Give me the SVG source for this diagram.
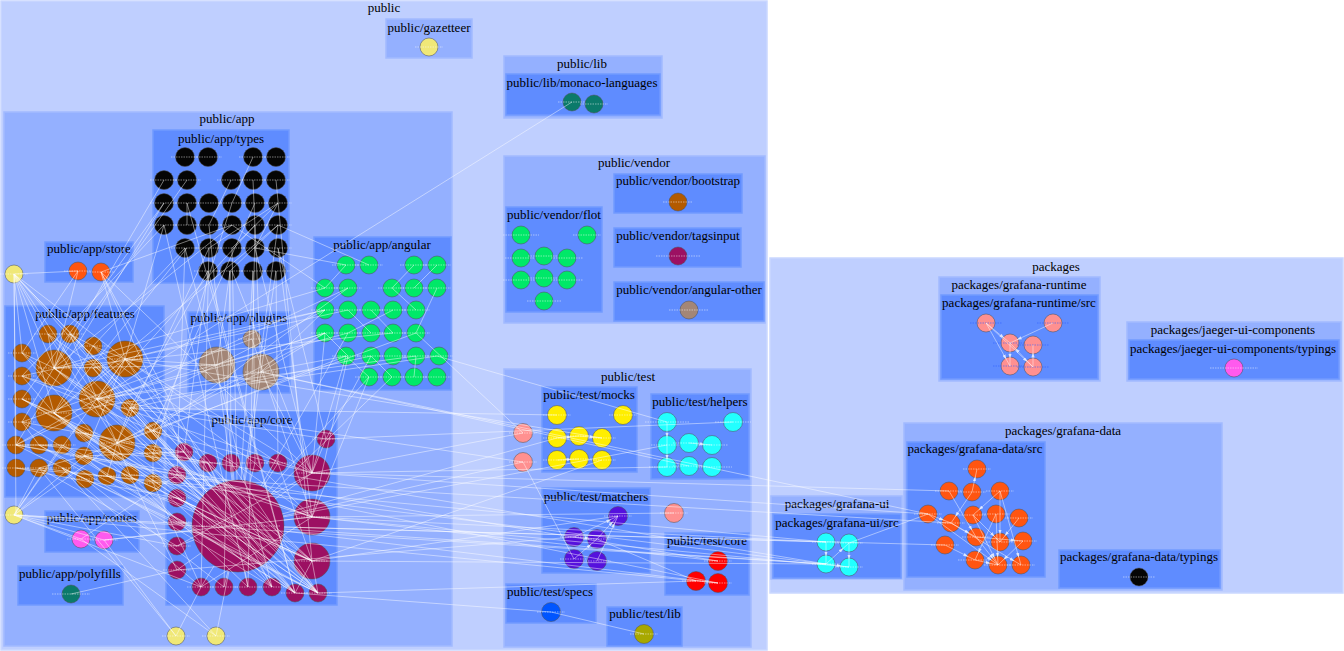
<svg xmlns="http://www.w3.org/2000/svg" width="1344" height="651" viewBox="0 0 1344 651">
<style>
.c1{fill:#bfcfff;stroke:#cad8ff;stroke-width:1.5}
.c2{fill:#94b0ff;stroke:#a2bbff;stroke-width:1.5}
.c3{fill:#5f8cff;stroke:#729aff;stroke-width:1.5}
text{font-size:13px;fill:#000;text-anchor:middle}
circle{stroke:#505050;stroke-width:0.5}
.l{stroke:#fff;stroke-width:0.6;stroke-dasharray:1.5 1;opacity:0.8;fill:none}
.lb{stroke:#2f5fff;stroke-width:0.6;stroke-dasharray:1.5 1;fill:none}
.yl{fill:#f0e878}.bk{fill:#050505}.or{fill:#ff5511}.br{fill:#b35a00}.pg{fill:#a38677}
.gr{fill:#00e868}.mr{fill:#9c1062}.pk{fill:#ff5aee}.tl{fill:#0b7a6a}.ym{fill:#ffee00}
.cy{fill:#22ffff}.sa{fill:#ff9090}.pu{fill:#5511dd}.rd{fill:#ff0000}.bl{fill:#0055ff}.ol{fill:#a8a800}
#edges line{stroke:#fff;stroke-width:0.7;stroke-opacity:0.65}
#edges line.m{marker-end:url(#a)}
</style>
<defs>
<marker id="a" viewBox="0 0 6 4" refX="15" refY="2" markerWidth="5" markerHeight="3.5" markerUnits="userSpaceOnUse" orient="auto"><path d="M0 0L6 2L0 4z" fill="#fff" fill-opacity="0.7"/></marker>
</defs>
<g id="clusters" font-family="Liberation Serif, Times New Roman, serif">
<rect class="c1" x="1" y="1" width="766" height="649"/><text x="384" y="12">public</text>
<rect class="c2" x="386" y="19" width="86" height="39"/><text x="429" y="32">public/gazetteer</text>
<rect class="c2" x="504" y="56" width="158" height="62"/><text x="582" y="68">public/lib</text>
<rect class="c3" x="506" y="74" width="154" height="41"/><text x="582" y="87">public/lib/monaco-languages</text>
<rect class="c2" x="4" y="112" width="448" height="534"/><text x="227" y="123">public/app</text>
<rect class="c3" x="153" y="130" width="136" height="153"/><text x="221" y="143">public/app/types</text>
<rect class="c3" x="45" y="242" width="88" height="40"/><text x="89" y="253">public/app/store</text>
<rect class="c3" x="5" y="306" width="159" height="191"/><text x="85" y="318">public/app/features</text>
<rect class="c3" x="188" y="312" width="102" height="81"/><text x="239" y="322">public/app/plugins</text>
<rect class="c3" x="314" y="237" width="137" height="153"/><text x="382" y="249">public/app/angular</text>
<rect class="c3" x="166" y="411" width="171" height="194"/><text x="252" y="424">public/app/core</text>
<rect class="c3" x="45" y="511" width="94" height="41"/><text x="92" y="522">public/app/routes</text>
<rect class="c3" x="18" y="566" width="105" height="39"/><text x="70" y="578">public/app/polyfills</text>
<rect class="c2" x="504" y="156" width="261" height="167"/><text x="634" y="167">public/vendor</text>
<rect class="c3" x="506" y="207" width="96" height="105"/><text x="554" y="219">public/vendor/flot</text>
<rect class="c3" x="614" y="174" width="128" height="39"/><text x="678" y="185">public/vendor/bootstrap</text>
<rect class="c3" x="614" y="228" width="127" height="39"/><text x="678" y="240">public/vendor/tagsinput</text>
<rect class="c3" x="614" y="282" width="150" height="39"/><text x="689" y="294">public/vendor/angular-other</text>
<rect class="c2" x="504" y="369" width="247" height="278"/><text x="628" y="381">public/test</text>
<rect class="c3" x="542" y="387" width="95" height="85"/><text x="589" y="399">public/test/mocks</text>
<rect class="c3" x="651" y="394" width="98" height="85"/><text x="700" y="406">public/test/helpers</text>
<rect class="c3" x="542" y="488" width="108" height="85"/><text x="596" y="501">public/test/matchers</text>
<rect class="c3" x="665" y="533" width="84" height="62"/><text x="707" y="545">public/test/core</text>
<rect class="c3" x="506" y="584" width="90" height="39"/><text x="550" y="596">public/test/specs</text>
<rect class="c3" x="607" y="607" width="75" height="39"/><text x="645" y="618">public/test/lib</text>
<rect class="c1" x="770" y="258" width="573" height="335"/><text x="1056" y="271">packages</text>
<rect class="c2" x="939" y="277" width="161" height="104"/><text x="1019" y="289">packages/grafana-runtime</text>
<rect class="c3" x="941" y="295" width="157" height="84"/><text x="1019" y="307">packages/grafana-runtime/src</text>
<rect class="c2" x="1127" y="322" width="214" height="59"/><text x="1233" y="334">packages/jaeger-ui-components</text>
<rect class="c3" x="1129" y="340" width="210" height="39"/><text x="1233" y="353">packages/jaeger-ui-components/typings</text>
<rect class="c2" x="904" y="423" width="318" height="167"/><text x="1063" y="435">packages/grafana-data</text>
<rect class="c3" x="907" y="442" width="138" height="135"/><text x="975" y="453">packages/grafana-data/src</text>
<rect class="c3" x="1059" y="550" width="161" height="38"/><text x="1139" y="561">packages/grafana-data/typings</text>
<rect class="c2" x="771" y="496" width="131" height="83"/><text x="837" y="508">packages/grafana-ui</text>
<rect class="c3" x="773" y="514" width="128" height="64"/><text x="837" y="527">packages/grafana-ui/src</text>
</g>
<g id="nodes">
<g id="gaz1"><circle class="yl" cx="429" cy="47" r="9"/><path class="l" d="M415 47h28"/></g>
<g id="mon1"><circle class="tl" cx="572" cy="102" r="9"/><path class="l" d="M558 102h28"/></g>
<g id="mon2"><circle class="tl" cx="594" cy="104" r="9"/><path class="l" d="M580 104h28"/></g>
<g id="y1"><circle class="yl" cx="14" cy="274" r="9"/><path class="l" d="M0 274h28"/></g>
<g id="y2"><circle class="yl" cx="14" cy="515" r="9"/><path class="l" d="M0 515h28"/></g>
<g id="y3"><circle class="yl" cx="176" cy="636" r="9"/><path class="l" d="M162 636h28"/></g>
<g id="y4"><circle class="yl" cx="216" cy="636" r="9"/><path class="l" d="M202 636h28"/></g>
<g id="st1"><circle class="or" cx="78" cy="271" r="9"/><path class="l" d="M64 271h28"/></g>
<g id="st2"><circle class="or" cx="101" cy="272" r="9"/><path class="l" d="M87 272h28"/></g>
<g id="ty1"><circle class="bk" cx="185" cy="157" r="9.5"/><path class="l" d="M171 157h28"/></g>
<g id="ty2"><circle class="bk" cx="208" cy="157" r="9.5"/><path class="l" d="M194 157h28"/></g>
<g id="ty3"><circle class="bk" cx="253" cy="157" r="9.5"/><path class="l" d="M239 157h28"/></g>
<g id="ty4"><circle class="bk" cx="276" cy="157" r="9.5"/><path class="l" d="M262 157h28"/></g>
<g id="ty5"><circle class="bk" cx="164" cy="180" r="9.5"/><path class="l" d="M150 180h28"/></g>
<g id="ty6"><circle class="bk" cx="187" cy="180" r="9.5"/><path class="l" d="M173 180h28"/></g>
<g id="ty7"><circle class="bk" cx="231" cy="180" r="9.5"/><path class="l" d="M217 180h28"/></g>
<g id="ty8"><circle class="bk" cx="253" cy="180" r="9.5"/><path class="l" d="M239 180h28"/></g>
<g id="ty9"><circle class="bk" cx="276" cy="180" r="9.5"/><path class="l" d="M262 180h28"/></g>
<g id="ty10"><circle class="bk" cx="164" cy="203" r="9.5"/><path class="l" d="M150 203h28"/></g>
<g id="ty11"><circle class="bk" cx="187" cy="203" r="9.5"/><path class="l" d="M173 203h28"/></g>
<g id="ty12"><circle class="bk" cx="209" cy="203" r="9.5"/><path class="l" d="M195 203h28"/></g>
<g id="ty13"><circle class="bk" cx="232" cy="203" r="9.5"/><path class="l" d="M218 203h28"/></g>
<g id="ty14"><circle class="bk" cx="255" cy="203" r="9.5"/><path class="l" d="M241 203h28"/></g>
<g id="ty15"><circle class="bk" cx="278" cy="203" r="9.5"/><path class="l" d="M264 203h28"/></g>
<g id="ty16"><circle class="bk" cx="164" cy="225" r="9.5"/><path class="l" d="M150 225h28"/></g>
<g id="ty17"><circle class="bk" cx="187" cy="225" r="9.5"/><path class="l" d="M173 225h28"/></g>
<g id="ty18"><circle class="bk" cx="209" cy="225" r="9.5"/><path class="l" d="M195 225h28"/></g>
<g id="ty19"><circle class="bk" cx="232" cy="225" r="9.5"/><path class="l" d="M218 225h28"/></g>
<g id="ty20"><circle class="bk" cx="255" cy="225" r="9.5"/><path class="l" d="M241 225h28"/></g>
<g id="ty21"><circle class="bk" cx="278" cy="225" r="9.5"/><path class="l" d="M264 225h28"/></g>
<g id="ty22"><circle class="bk" cx="185" cy="248" r="9.5"/><path class="l" d="M171 248h28"/></g>
<g id="ty23"><circle class="bk" cx="209" cy="248" r="9.5"/><path class="l" d="M195 248h28"/></g>
<g id="ty24"><circle class="bk" cx="232" cy="248" r="9.5"/><path class="l" d="M218 248h28"/></g>
<g id="ty25"><circle class="bk" cx="255" cy="248" r="9.5"/><path class="l" d="M241 248h28"/></g>
<g id="ty26"><circle class="bk" cx="278" cy="248" r="9.5"/><path class="l" d="M264 248h28"/></g>
<g id="ty27"><circle class="bk" cx="208" cy="271" r="9.5"/><path class="l" d="M194 271h28"/></g>
<g id="ty28"><circle class="bk" cx="230" cy="271" r="9.5"/><path class="l" d="M216 271h28"/></g>
<g id="ty29"><circle class="bk" cx="253" cy="271" r="9.5"/><path class="l" d="M239 271h28"/></g>
<g id="ty30"><circle class="bk" cx="276" cy="271" r="9.5"/><path class="l" d="M262 271h28"/></g>
<g id="fe1"><circle class="br" cx="48" cy="334" r="9"/><path class="l" d="M34 334h28"/></g>
<g id="fe2"><circle class="br" cx="70" cy="334" r="9"/><path class="l" d="M56 334h28"/></g>
<g id="fe3"><circle class="br" cx="93" cy="346" r="9"/><path class="l" d="M79 346h28"/></g>
<g id="fe4"><circle class="br" cx="125" cy="359" r="18"/><path class="l" d="M109 359h32"/></g>
<g id="fe5"><circle class="br" cx="22" cy="353" r="9"/><path class="l" d="M8 353h28"/></g>
<g id="fe6"><circle class="br" cx="54" cy="368" r="18"/><path class="l" d="M38 368h32"/></g>
<g id="fe7"><circle class="br" cx="93" cy="368" r="9"/><path class="l" d="M79 368h28"/></g>
<g id="fe8"><circle class="br" cx="22" cy="376" r="9"/><path class="l" d="M8 376h28"/></g>
<g id="fe9"><circle class="br" cx="97" cy="399" r="18"/><path class="l" d="M81 399h32"/></g>
<g id="fe10"><circle class="br" cx="22" cy="399" r="9"/><path class="l" d="M8 399h28"/></g>
<g id="fe11"><circle class="br" cx="54" cy="413" r="18"/><path class="l" d="M38 413h32"/></g>
<g id="fe12"><circle class="br" cx="130" cy="408" r="9"/><path class="l" d="M116 408h28"/></g>
<g id="fe13"><circle class="br" cx="22" cy="422" r="9"/><path class="l" d="M8 422h28"/></g>
<g id="fe14"><circle class="br" cx="84" cy="433" r="9"/><path class="l" d="M70 433h28"/></g>
<g id="fe15"><circle class="br" cx="117" cy="443" r="18"/><path class="l" d="M101 443h32"/></g>
<g id="fe16"><circle class="br" cx="153" cy="431" r="9"/><path class="l" d="M139 431h28"/></g>
<g id="fe17"><circle class="br" cx="16" cy="445" r="9"/><path class="l" d="M2 445h28"/></g>
<g id="fe18"><circle class="br" cx="39" cy="445" r="9"/><path class="l" d="M25 445h28"/></g>
<g id="fe19"><circle class="br" cx="62" cy="445" r="9"/><path class="l" d="M48 445h28"/></g>
<g id="fe20"><circle class="br" cx="84" cy="456" r="9"/><path class="l" d="M70 456h28"/></g>
<g id="fe21"><circle class="br" cx="153" cy="453" r="9"/><path class="l" d="M139 453h28"/></g>
<g id="fe22"><circle class="br" cx="16" cy="468" r="9"/><path class="l" d="M2 468h28"/></g>
<g id="fe23"><circle class="br" cx="39" cy="468" r="9"/><path class="l" d="M25 468h28"/></g>
<g id="fe24"><circle class="br" cx="62" cy="468" r="9"/><path class="l" d="M48 468h28"/></g>
<g id="fe25"><circle class="br" cx="85" cy="479" r="9"/><path class="l" d="M71 479h28"/></g>
<g id="fe26"><circle class="br" cx="107" cy="476" r="9"/><path class="l" d="M93 476h28"/></g>
<g id="fe27"><circle class="br" cx="130" cy="475" r="9"/><path class="l" d="M116 475h28"/></g>
<g id="fe28"><circle class="br" cx="153" cy="483" r="9"/><path class="l" d="M139 483h28"/></g>
<g id="pl1"><circle class="pg" cx="252" cy="339" r="9"/><path class="l" d="M238 339h28"/></g>
<g id="pl2"><circle class="pg" cx="217" cy="365" r="18"/><path class="l" d="M201 365h32"/></g>
<g id="pl3"><circle class="pg" cx="261" cy="372" r="18"/><path class="l" d="M245 372h32"/></g>
<g id="an1"><circle class="gr" cx="346" cy="265" r="9"/><path class="l" d="M332 265h28"/></g>
<g id="an2"><circle class="gr" cx="369" cy="265" r="9"/><path class="l" d="M355 265h28"/></g>
<g id="an3"><circle class="gr" cx="414" cy="265" r="9"/><path class="l" d="M400 265h28"/></g>
<g id="an4"><circle class="gr" cx="437" cy="265" r="9"/><path class="l" d="M423 265h28"/></g>
<g id="an5"><circle class="gr" cx="325" cy="288" r="9"/><path class="l" d="M311 288h28"/></g>
<g id="an6"><circle class="gr" cx="348" cy="288" r="9"/><path class="l" d="M334 288h28"/></g>
<g id="an7"><circle class="gr" cx="392" cy="288" r="9"/><path class="l" d="M378 288h28"/></g>
<g id="an8"><circle class="gr" cx="414" cy="288" r="9"/><path class="l" d="M400 288h28"/></g>
<g id="an9"><circle class="gr" cx="437" cy="288" r="9"/><path class="l" d="M423 288h28"/></g>
<g id="an10"><circle class="gr" cx="325" cy="310" r="9"/><path class="l" d="M311 310h28"/></g>
<g id="an11"><circle class="gr" cx="348" cy="310" r="9"/><path class="l" d="M334 310h28"/></g>
<g id="an12"><circle class="gr" cx="371" cy="310" r="9"/><path class="l" d="M357 310h28"/></g>
<g id="an13"><circle class="gr" cx="393" cy="310" r="9"/><path class="l" d="M379 310h28"/></g>
<g id="an14"><circle class="gr" cx="416" cy="310" r="9"/><path class="l" d="M402 310h28"/></g>
<g id="an15"><circle class="gr" cx="325" cy="333" r="9"/><path class="l" d="M311 333h28"/></g>
<g id="an16"><circle class="gr" cx="348" cy="333" r="9"/><path class="l" d="M334 333h28"/></g>
<g id="an17"><circle class="gr" cx="371" cy="333" r="9"/><path class="l" d="M357 333h28"/></g>
<g id="an18"><circle class="gr" cx="393" cy="333" r="9"/><path class="l" d="M379 333h28"/></g>
<g id="an19"><circle class="gr" cx="416" cy="333" r="9"/><path class="l" d="M402 333h28"/></g>
<g id="an20"><circle class="gr" cx="346" cy="356" r="9"/><path class="l" d="M332 356h28"/></g>
<g id="an21"><circle class="gr" cx="371" cy="356" r="9"/><path class="l" d="M357 356h28"/></g>
<g id="an22"><circle class="gr" cx="393" cy="356" r="9"/><path class="l" d="M379 356h28"/></g>
<g id="an23"><circle class="gr" cx="416" cy="356" r="9"/><path class="l" d="M402 356h28"/></g>
<g id="an24"><circle class="gr" cx="439" cy="356" r="9"/><path class="l" d="M425 356h28"/></g>
<g id="an25"><circle class="gr" cx="369" cy="377" r="9"/><path class="l" d="M355 377h28"/></g>
<g id="an26"><circle class="gr" cx="392" cy="377" r="9"/><path class="l" d="M378 377h28"/></g>
<g id="an27"><circle class="gr" cx="414" cy="377" r="9"/><path class="l" d="M400 377h28"/></g>
<g id="an28"><circle class="gr" cx="437" cy="377" r="9"/><path class="l" d="M423 377h28"/></g>
<g id="co1"><circle class="mr" cx="326" cy="439" r="9"/><path class="l" d="M312 439h28"/></g>
<g id="co2"><circle class="mr" cx="184" cy="452" r="9"/><path class="l" d="M170 452h28"/></g>
<g id="co3"><circle class="mr" cx="208" cy="463" r="9"/><path class="l" d="M194 463h28"/></g>
<g id="co4"><circle class="mr" cx="231" cy="463" r="9"/><path class="l" d="M217 463h28"/></g>
<g id="co5"><circle class="mr" cx="255" cy="463" r="9"/><path class="l" d="M241 463h28"/></g>
<g id="co6"><circle class="mr" cx="278" cy="463" r="9"/><path class="l" d="M264 463h28"/></g>
<g id="co7"><circle class="mr" cx="312" cy="473" r="18"/><path class="l" d="M296 473h32"/></g>
<g id="co8"><circle class="mr" cx="177" cy="475" r="9"/><path class="l" d="M163 475h28"/></g>
<g id="co9"><circle class="mr" cx="238" cy="526" r="46"/><path class="l" d="M196 526h84"/></g>
<g id="co10"><circle class="mr" cx="177" cy="498" r="9"/><path class="l" d="M163 498h28"/></g>
<g id="co11"><circle class="mr" cx="312" cy="517" r="18"/><path class="l" d="M296 517h32"/></g>
<g id="co12"><circle class="mr" cx="177" cy="522" r="9"/><path class="l" d="M163 522h28"/></g>
<g id="co13"><circle class="mr" cx="177" cy="546" r="9"/><path class="l" d="M163 546h28"/></g>
<g id="co14"><circle class="mr" cx="312" cy="561" r="18"/><path class="l" d="M296 561h32"/></g>
<g id="co15"><circle class="mr" cx="177" cy="570" r="9"/><path class="l" d="M163 570h28"/></g>
<g id="co16"><circle class="mr" cx="201" cy="587" r="9"/><path class="l" d="M187 587h28"/></g>
<g id="co17"><circle class="mr" cx="224" cy="587" r="9"/><path class="l" d="M210 587h28"/></g>
<g id="co18"><circle class="mr" cx="248" cy="587" r="9"/><path class="l" d="M234 587h28"/></g>
<g id="co19"><circle class="mr" cx="272" cy="587" r="9"/><path class="l" d="M258 587h28"/></g>
<g id="co20"><circle class="mr" cx="295" cy="593" r="9"/><path class="l" d="M281 593h28"/></g>
<g id="co21"><circle class="mr" cx="318" cy="593" r="9"/><path class="l" d="M304 593h28"/></g>
<g id="ro1"><circle class="pk" cx="81" cy="539" r="9"/><path class="l" d="M67 539h28"/></g>
<g id="ro2"><circle class="pk" cx="104" cy="540" r="9"/><path class="l" d="M90 540h28"/></g>
<g id="po1"><circle class="tl" cx="71" cy="594" r="9"/><path class="l" d="M52 594h38"/></g>
<g id="fl1"><circle class="gr" cx="521" cy="235" r="9"/><path class="l" d="M503 235h36"/></g>
<g id="fl2"><circle class="gr" cx="587" cy="235" r="9"/><path class="l" d="M573 235h28"/></g>
<g id="fl3"><circle class="gr" cx="521" cy="258" r="9"/><path class="l" d="M505 258h32"/></g>
<g id="fl4"><circle class="gr" cx="544" cy="256" r="9"/><path class="l" d="M528 256h32"/></g>
<g id="fl5"><circle class="gr" cx="567" cy="258" r="9"/><path class="l" d="M551 258h32"/></g>
<g id="fl6"><circle class="gr" cx="521" cy="280" r="9"/><path class="l" d="M503 280h36"/></g>
<g id="fl7"><circle class="gr" cx="544" cy="278" r="9"/><path class="l" d="M528 278h32"/></g>
<g id="fl8"><circle class="gr" cx="567" cy="280" r="9"/><path class="l" d="M551 280h32"/></g>
<g id="fl9"><circle class="gr" cx="544" cy="301" r="9"/><path class="l" d="M527 301h34"/></g>
<g id="bo1"><circle class="br" cx="678" cy="202" r="9"/><path class="l" d="M663 202h30"/></g>
<g id="tg1"><circle class="mr" cx="678" cy="256" r="9"/><path class="l" d="M656 256h44"/></g>
<g id="ao1"><circle class="pg" cx="689" cy="310" r="9"/><path class="l" d="M669 310h40"/></g>
<g id="mo1"><circle class="ym" cx="557" cy="415" r="9.5"/><path class="l" d="M543 415h28"/></g>
<g id="mo2"><circle class="ym" cx="623" cy="415" r="9.5"/><path class="l" d="M609 415h28"/></g>
<g id="mo3"><circle class="ym" cx="557" cy="438" r="9.5"/><path class="l" d="M543 438h28"/></g>
<g id="mo4"><circle class="ym" cx="579" cy="436" r="9.5"/><path class="l" d="M565 436h28"/></g>
<g id="mo5"><circle class="ym" cx="602" cy="438" r="9.5"/><path class="l" d="M588 438h28"/></g>
<g id="mo6"><circle class="ym" cx="557" cy="460" r="9.5"/><path class="l" d="M543 460h28"/></g>
<g id="mo7"><circle class="ym" cx="579" cy="459" r="9.5"/><path class="l" d="M565 459h28"/></g>
<g id="mo8"><circle class="ym" cx="602" cy="460" r="9.5"/><path class="l" d="M588 460h28"/></g>
<g id="he1"><circle class="cy" cx="667" cy="422" r="9.5"/><path class="l" d="M645 422h44"/></g>
<g id="he2"><circle class="cy" cx="733" cy="422" r="9.5"/><path class="l" d="M715 422h36"/></g>
<g id="he3"><circle class="cy" cx="667" cy="445" r="9.5"/><path class="l" d="M651 445h32"/></g>
<g id="he4"><circle class="cy" cx="689" cy="443" r="9.5"/><path class="l" d="M673 443h32"/></g>
<g id="he5"><circle class="cy" cx="712" cy="445" r="9.5"/><path class="l" d="M696 445h32"/></g>
<g id="he6"><circle class="cy" cx="667" cy="467" r="9.5"/><path class="l" d="M649 467h36"/></g>
<g id="he7"><circle class="cy" cx="689" cy="466" r="9.5"/><path class="l" d="M673 466h32"/></g>
<g id="he8"><circle class="cy" cx="712" cy="467" r="9.5"/><path class="l" d="M696 467h36"/></g>
<g id="sa1"><circle class="sa" cx="523" cy="433" r="9.5"/><path class="l" d="M509 433h28"/></g>
<g id="sa2"><circle class="sa" cx="523" cy="462" r="9.5"/><path class="l" d="M509 462h28"/></g>
<g id="sa3"><circle class="sa" cx="674" cy="513" r="9.5"/><path class="l" d="M660 513h28"/></g>
<g id="ma1"><circle class="pu" cx="618" cy="516" r="9.5"/><path class="l" d="M604 516h28"/></g>
<g id="ma2"><circle class="pu" cx="574" cy="537" r="9.5"/><path class="l" d="M560 537h28"/></g>
<g id="ma3"><circle class="pu" cx="597" cy="539" r="9.5"/><path class="l" d="M583 539h28"/></g>
<g id="ma4"><circle class="pu" cx="574" cy="559" r="9.5"/><path class="l" d="M560 559h28"/></g>
<g id="ma5"><circle class="pu" cx="597" cy="561" r="9.5"/><path class="l" d="M583 561h28"/></g>
<g id="tc1"><circle class="rd" cx="718" cy="561" r="9.5"/><path class="l" d="M704 561h28"/></g>
<g id="tc2"><circle class="rd" cx="696" cy="581" r="9.5"/><path class="l" d="M682 581h28"/></g>
<g id="tc3"><circle class="rd" cx="718" cy="583" r="9.5"/><path class="l" d="M704 583h28"/></g>
<g id="sp1"><circle class="bl" cx="551" cy="612" r="9.5"/><path class="l" d="M537 612h28"/></g>
<g id="tl1"><circle class="ol" cx="644" cy="634" r="9.5"/><path class="l" d="M630 634h28"/></g>
<g id="rt1"><circle class="sa" cx="986" cy="323" r="9"/><path class="lb" d="M970 323h32"/></g>
<g id="rt2"><circle class="sa" cx="1053" cy="323" r="9"/><path class="lb" d="M1037 323h32"/></g>
<g id="rt3"><circle class="sa" cx="1010" cy="343" r="9"/><path class="lb" d="M993 343h34"/></g>
<g id="rt4"><circle class="sa" cx="1033" cy="345" r="9"/><path class="lb" d="M1017 345h32"/></g>
<g id="rt5"><circle class="sa" cx="1010" cy="366" r="9"/><path class="lb" d="M993 366h34"/></g>
<g id="rt6"><circle class="sa" cx="1033" cy="367" r="9"/><path class="lb" d="M1017 367h32"/></g>
<g id="jg1"><circle class="pk" cx="1234" cy="368" r="9"/><path class="l" d="M1210 368h48"/></g>
<g id="gd1"><circle class="or" cx="977" cy="469" r="9"/><path class="l" d="M963 469h28"/></g>
<g id="gd2"><circle class="or" cx="949" cy="491" r="9"/><path class="l" d="M935 491h28"/></g>
<g id="gd3"><circle class="or" cx="972" cy="492" r="9"/><path class="l" d="M958 492h28"/></g>
<g id="gd4"><circle class="or" cx="1000" cy="491" r="9"/><path class="l" d="M986 491h28"/></g>
<g id="gd5"><circle class="or" cx="928" cy="514" r="9"/><path class="l" d="M914 514h28"/></g>
<g id="gd6"><circle class="or" cx="973" cy="515" r="9"/><path class="l" d="M959 515h28"/></g>
<g id="gd7"><circle class="or" cx="996" cy="514" r="9"/><path class="l" d="M982 514h28"/></g>
<g id="gd8"><circle class="or" cx="1019" cy="518" r="9"/><path class="l" d="M1005 518h28"/></g>
<g id="gd9"><circle class="or" cx="951" cy="523" r="9"/><path class="l" d="M937 523h28"/></g>
<g id="gd10"><circle class="or" cx="976" cy="537" r="9"/><path class="l" d="M962 537h28"/></g>
<g id="gd11"><circle class="or" cx="1000" cy="542" r="9"/><path class="l" d="M986 542h28"/></g>
<g id="gd12"><circle class="or" cx="1023" cy="541" r="9"/><path class="l" d="M1009 541h28"/></g>
<g id="gd13"><circle class="or" cx="945" cy="545" r="9"/><path class="l" d="M931 545h28"/></g>
<g id="gd14"><circle class="or" cx="975" cy="560" r="9"/><path class="l" d="M958 560h34"/></g>
<g id="gd15"><circle class="or" cx="998" cy="565" r="9"/><path class="l" d="M984 565h28"/></g>
<g id="gd16"><circle class="or" cx="1021" cy="565" r="9"/><path class="l" d="M1007 565h28"/></g>
<g id="gt1"><circle class="bk" cx="1139" cy="577" r="9"/><path class="l" d="M1123 577h32"/></g>
<g id="gu1"><circle class="cy" cx="826" cy="542" r="9"/><path class="l" d="M812 542h28"/></g>
<g id="gu2"><circle class="cy" cx="849" cy="543" r="9"/><path class="l" d="M835 543h28"/></g>
<g id="gu3"><circle class="cy" cx="826" cy="564" r="9"/><path class="l" d="M812 564h28"/></g>
<g id="gu4"><circle class="cy" cx="849" cy="567" r="9"/><path class="l" d="M835 567h28"/></g>
</g>
<g id="edges">
<line x1="97" y1="399" x2="572" y2="102"/>
<line x1="14" y1="274" x2="78" y2="271"/>
<line x1="14" y1="274" x2="22" y2="353"/>
<line x1="14" y1="274" x2="54" y2="368"/>
<line x1="14" y1="274" x2="16" y2="445"/>
<line x1="14" y1="274" x2="54" y2="413"/>
<line x1="14" y1="274" x2="97" y2="399"/>
<line x1="14" y1="274" x2="125" y2="359"/>
<line x1="14" y1="274" x2="207" y2="492"/>
<line x1="14" y1="274" x2="184" y2="452"/>
<line x1="14" y1="274" x2="48" y2="334"/>
<line x1="14" y1="274" x2="16" y2="515"/>
<line x1="14" y1="274" x2="318" y2="593"/>
<line x1="14" y1="515" x2="81" y2="539"/>
<line x1="14" y1="515" x2="104" y2="540"/>
<line x1="14" y1="515" x2="177" y2="546"/>
<line x1="14" y1="515" x2="201" y2="587"/>
<line x1="14" y1="515" x2="192" y2="524"/>
<line x1="14" y1="515" x2="84" y2="456"/>
<line x1="14" y1="515" x2="39" y2="468"/>
<line x1="14" y1="515" x2="62" y2="445"/>
<line x1="14" y1="515" x2="125" y2="359"/>
<line x1="14" y1="515" x2="117" y2="443"/>
<line x1="14" y1="515" x2="826" y2="564"/>
<line x1="14" y1="515" x2="718" y2="583"/>
<line x1="176" y1="636" x2="104" y2="540"/>
<line x1="176" y1="636" x2="39" y2="468"/>
<line x1="176" y1="636" x2="201" y2="587"/>
<line x1="216" y1="636" x2="81" y2="539"/>
<line x1="216" y1="636" x2="62" y2="468"/>
<line x1="216" y1="636" x2="229" y2="571"/>
<line x1="78" y1="271" x2="54" y2="368"/>
<line x1="78" y1="271" x2="22" y2="353"/>
<line x1="101" y1="272" x2="216" y2="486"/>
<line x1="101" y1="272" x2="125" y2="359"/>
<line x1="101" y1="272" x2="184" y2="452"/>
<line x1="101" y1="272" x2="232" y2="225"/>
<line x1="101" y1="272" x2="312" y2="473"/>
<line x1="232" y1="225" x2="54" y2="368"/>
<line x1="255" y1="225" x2="97" y2="399"/>
<line x1="278" y1="225" x2="54" y2="413"/>
<line x1="209" y1="248" x2="117" y2="443"/>
<line x1="232" y1="248" x2="237" y2="480"/>
<line x1="255" y1="248" x2="312" y2="473"/>
<line x1="278" y1="203" x2="209" y2="248"/>
<line x1="278" y1="203" x2="232" y2="248"/>
<line x1="278" y1="203" x2="255" y2="248"/>
<line x1="278" y1="225" x2="230" y2="271"/>
<line x1="187" y1="225" x2="187" y2="203"/>
<line x1="164" y1="225" x2="125" y2="359"/>
<line x1="253" y1="271" x2="241" y2="480"/>
<line x1="276" y1="271" x2="261" y2="372"/>
<line x1="230" y1="271" x2="217" y2="365"/>
<line x1="208" y1="271" x2="130" y2="408"/>
<line x1="185" y1="248" x2="93" y2="346"/>
<line x1="164" y1="180" x2="22" y2="422"/>
<line x1="187" y1="180" x2="54" y2="368"/>
<line x1="253" y1="157" x2="232" y2="203"/>
<line x1="231" y1="180" x2="209" y2="225"/>
<line x1="164" y1="203" x2="16" y2="445"/>
<line x1="187" y1="248" x2="54" y2="413"/>
<line x1="255" y1="203" x2="153" y2="431"/>
<line x1="278" y1="248" x2="312" y2="517"/>
<line x1="209" y1="225" x2="234" y2="480"/>
<line x1="253" y1="180" x2="261" y2="372"/>
<line x1="185" y1="248" x2="177" y2="475"/>
<line x1="208" y1="271" x2="184" y2="452"/>
<line x1="230" y1="271" x2="231" y2="463"/>
<line x1="253" y1="271" x2="255" y2="463"/>
<line x1="276" y1="271" x2="278" y2="463"/>
<line x1="278" y1="248" x2="326" y2="439"/>
<line x1="164" y1="225" x2="22" y2="376"/>
<line x1="164" y1="203" x2="22" y2="399"/>
<line x1="232" y1="203" x2="153" y2="453"/>
<line x1="276" y1="180" x2="312" y2="561"/>
<line x1="185" y1="248" x2="272" y2="587"/>
<line x1="208" y1="271" x2="295" y2="593"/>
<line x1="164" y1="225" x2="248" y2="587"/>
<line x1="230" y1="271" x2="224" y2="587"/>
<line x1="187" y1="203" x2="295" y2="593"/>
<line x1="209" y1="248" x2="201" y2="587"/>
<line x1="255" y1="225" x2="248" y2="587"/>
<line x1="325" y1="288" x2="346" y2="265"/>
<line x1="348" y1="310" x2="371" y2="333"/>
<line x1="371" y1="310" x2="393" y2="333"/>
<line x1="392" y1="288" x2="416" y2="310"/>
<line x1="414" y1="265" x2="392" y2="288"/>
<line x1="437" y1="265" x2="414" y2="288"/>
<line x1="346" y1="356" x2="369" y2="377"/>
<line x1="371" y1="356" x2="392" y2="377"/>
<line x1="416" y1="356" x2="414" y2="377"/>
<line x1="325" y1="333" x2="348" y2="356"/>
<line x1="348" y1="333" x2="393" y2="310"/>
<line x1="437" y1="288" x2="416" y2="333"/>
<line x1="325" y1="310" x2="125" y2="359"/>
<line x1="325" y1="333" x2="97" y2="399"/>
<line x1="348" y1="333" x2="261" y2="486"/>
<line x1="346" y1="356" x2="312" y2="473"/>
<line x1="369" y1="377" x2="312" y2="517"/>
<line x1="325" y1="288" x2="54" y2="368"/>
<line x1="325" y1="310" x2="217" y2="365"/>
<line x1="325" y1="333" x2="261" y2="372"/>
<line x1="348" y1="288" x2="153" y2="431"/>
<line x1="371" y1="356" x2="130" y2="408"/>
<line x1="325" y1="288" x2="232" y2="225"/>
<line x1="346" y1="265" x2="255" y2="248"/>
<line x1="392" y1="377" x2="271" y2="494"/>
<line x1="416" y1="333" x2="117" y2="443"/>
<line x1="437" y1="356" x2="54" y2="413"/>
<line x1="369" y1="265" x2="278" y2="225"/>
<line x1="125" y1="359" x2="348" y2="310"/>
<line x1="97" y1="399" x2="348" y2="333"/>
<line x1="117" y1="443" x2="325" y2="333"/>
<line x1="153" y1="431" x2="346" y2="356"/>
<line x1="54" y1="368" x2="393" y2="333"/>
<line x1="22" y1="376" x2="325" y2="310"/>
<line x1="97" y1="399" x2="416" y2="356"/>
<line x1="16" y1="445" x2="348" y2="288"/>
<line x1="48" y1="334" x2="54" y2="368"/>
<line x1="70" y1="334" x2="93" y2="346"/>
<line x1="93" y1="346" x2="125" y2="359"/>
<line x1="22" y1="353" x2="54" y2="368"/>
<line x1="54" y1="368" x2="97" y2="399"/>
<line x1="93" y1="368" x2="125" y2="359"/>
<line x1="22" y1="376" x2="54" y2="413"/>
<line x1="22" y1="399" x2="54" y2="413"/>
<line x1="54" y1="413" x2="84" y2="433"/>
<line x1="97" y1="399" x2="117" y2="443"/>
<line x1="130" y1="408" x2="117" y2="443"/>
<line x1="153" y1="431" x2="117" y2="443"/>
<line x1="22" y1="422" x2="39" y2="445"/>
<line x1="16" y1="445" x2="62" y2="445"/>
<line x1="39" y1="468" x2="84" y2="456"/>
<line x1="62" y1="468" x2="85" y2="479"/>
<line x1="84" y1="456" x2="107" y2="476"/>
<line x1="117" y1="443" x2="130" y2="475"/>
<line x1="153" y1="453" x2="153" y2="483"/>
<line x1="125" y1="359" x2="54" y2="413"/>
<line x1="97" y1="399" x2="16" y2="445"/>
<line x1="54" y1="368" x2="153" y2="431"/>
<line x1="48" y1="334" x2="117" y2="443"/>
<line x1="70" y1="334" x2="97" y2="399"/>
<line x1="125" y1="359" x2="84" y2="456"/>
<line x1="54" y1="413" x2="153" y2="483"/>
<line x1="22" y1="353" x2="130" y2="475"/>
<line x1="22" y1="376" x2="97" y2="399"/>
<line x1="22" y1="399" x2="117" y2="443"/>
<line x1="54" y1="413" x2="130" y2="475"/>
<line x1="84" y1="456" x2="153" y2="453"/>
<line x1="93" y1="346" x2="54" y2="413"/>
<line x1="125" y1="359" x2="97" y2="399"/>
<line x1="70" y1="334" x2="54" y2="368"/>
<line x1="117" y1="443" x2="107" y2="476"/>
<line x1="117" y1="443" x2="84" y2="456"/>
<line x1="117" y1="443" x2="200" y2="500"/>
<line x1="97" y1="399" x2="204" y2="495"/>
<line x1="54" y1="413" x2="199" y2="502"/>
<line x1="125" y1="359" x2="312" y2="473"/>
<line x1="153" y1="453" x2="184" y2="452"/>
<line x1="153" y1="483" x2="201" y2="587"/>
<line x1="130" y1="475" x2="177" y2="570"/>
<line x1="107" y1="476" x2="195" y2="510"/>
<line x1="85" y1="479" x2="224" y2="587"/>
<line x1="62" y1="468" x2="177" y2="522"/>
<line x1="84" y1="433" x2="312" y2="517"/>
<line x1="54" y1="368" x2="312" y2="561"/>
<line x1="22" y1="399" x2="198" y2="503"/>
<line x1="153" y1="431" x2="312" y2="473"/>
<line x1="130" y1="408" x2="326" y2="439"/>
<line x1="93" y1="346" x2="255" y2="463"/>
<line x1="125" y1="359" x2="278" y2="463"/>
<line x1="39" y1="445" x2="208" y2="463"/>
<line x1="16" y1="468" x2="177" y2="498"/>
<line x1="62" y1="445" x2="312" y2="561"/>
<line x1="117" y1="443" x2="295" y2="593"/>
<line x1="22" y1="376" x2="231" y2="463"/>
<line x1="16" y1="445" x2="177" y2="475"/>
<line x1="39" y1="468" x2="177" y2="546"/>
<line x1="62" y1="468" x2="201" y2="587"/>
<line x1="84" y1="456" x2="196" y2="507"/>
<line x1="107" y1="476" x2="312" y2="561"/>
<line x1="130" y1="475" x2="248" y2="587"/>
<line x1="153" y1="483" x2="272" y2="587"/>
<line x1="117" y1="443" x2="312" y2="517"/>
<line x1="97" y1="399" x2="312" y2="473"/>
<line x1="54" y1="413" x2="177" y2="522"/>
<line x1="22" y1="422" x2="184" y2="452"/>
<line x1="84" y1="433" x2="208" y2="463"/>
<line x1="153" y1="431" x2="207" y2="492"/>
<line x1="130" y1="408" x2="207" y2="492"/>
<line x1="125" y1="359" x2="212" y2="488"/>
<line x1="54" y1="368" x2="203" y2="496"/>
<line x1="93" y1="368" x2="207" y2="492"/>
<line x1="70" y1="334" x2="208" y2="491"/>
<line x1="48" y1="334" x2="312" y2="517"/>
<line x1="54" y1="413" x2="318" y2="593"/>
<line x1="97" y1="399" x2="295" y2="593"/>
<line x1="22" y1="399" x2="312" y2="561"/>
<line x1="62" y1="445" x2="295" y2="593"/>
<line x1="16" y1="445" x2="318" y2="593"/>
<line x1="39" y1="445" x2="272" y2="587"/>
<line x1="84" y1="433" x2="318" y2="593"/>
<line x1="22" y1="353" x2="318" y2="593"/>
<line x1="48" y1="334" x2="295" y2="593"/>
<line x1="93" y1="346" x2="318" y2="593"/>
<line x1="70" y1="334" x2="312" y2="561"/>
<line x1="125" y1="359" x2="318" y2="593"/>
<line x1="22" y1="422" x2="295" y2="593"/>
<line x1="39" y1="445" x2="318" y2="593"/>
<line x1="93" y1="368" x2="272" y2="587"/>
<line x1="130" y1="408" x2="295" y2="593"/>
<line x1="153" y1="431" x2="318" y2="593"/>
<line x1="84" y1="456" x2="718" y2="583"/>
<line x1="39" y1="468" x2="826" y2="564"/>
<line x1="16" y1="445" x2="718" y2="561"/>
<line x1="16" y1="468" x2="826" y2="542"/>
<line x1="125" y1="359" x2="217" y2="365"/>
<line x1="97" y1="399" x2="261" y2="372"/>
<line x1="54" y1="368" x2="217" y2="365"/>
<line x1="117" y1="443" x2="261" y2="372"/>
<line x1="130" y1="408" x2="217" y2="365"/>
<line x1="22" y1="422" x2="252" y2="339"/>
<line x1="217" y1="365" x2="232" y2="480"/>
<line x1="261" y1="372" x2="312" y2="473"/>
<line x1="252" y1="339" x2="312" y2="517"/>
<line x1="261" y1="372" x2="245" y2="481"/>
<line x1="261" y1="372" x2="325" y2="310"/>
<line x1="261" y1="372" x2="346" y2="356"/>
<line x1="217" y1="365" x2="325" y2="333"/>
<line x1="184" y1="452" x2="211" y2="489"/>
<line x1="208" y1="463" x2="218" y2="485"/>
<line x1="231" y1="463" x2="233" y2="480"/>
<line x1="255" y1="463" x2="250" y2="482"/>
<line x1="278" y1="463" x2="263" y2="487"/>
<line x1="177" y1="475" x2="203" y2="496"/>
<line x1="177" y1="498" x2="196" y2="507"/>
<line x1="177" y1="522" x2="192" y2="523"/>
<line x1="177" y1="546" x2="194" y2="540"/>
<line x1="177" y1="570" x2="201" y2="553"/>
<line x1="201" y1="587" x2="214" y2="566"/>
<line x1="224" y1="587" x2="228" y2="571"/>
<line x1="248" y1="587" x2="245" y2="571"/>
<line x1="272" y1="587" x2="260" y2="566"/>
<line x1="295" y1="593" x2="312" y2="561"/>
<line x1="318" y1="593" x2="312" y2="561"/>
<line x1="312" y1="473" x2="275" y2="499"/>
<line x1="312" y1="517" x2="284" y2="520"/>
<line x1="312" y1="561" x2="280" y2="546"/>
<line x1="326" y1="439" x2="312" y2="473"/>
<line x1="184" y1="452" x2="312" y2="561"/>
<line x1="177" y1="475" x2="318" y2="593"/>
<line x1="208" y1="463" x2="318" y2="593"/>
<line x1="177" y1="498" x2="295" y2="593"/>
<line x1="255" y1="463" x2="312" y2="517"/>
<line x1="278" y1="463" x2="312" y2="561"/>
<line x1="231" y1="463" x2="318" y2="593"/>
<line x1="177" y1="546" x2="312" y2="473"/>
<line x1="201" y1="587" x2="312" y2="517"/>
<line x1="177" y1="475" x2="312" y2="517"/>
<line x1="184" y1="452" x2="295" y2="593"/>
<line x1="177" y1="498" x2="312" y2="561"/>
<line x1="177" y1="522" x2="318" y2="593"/>
<line x1="208" y1="463" x2="272" y2="587"/>
<line x1="312" y1="473" x2="325" y2="333"/>
<line x1="312" y1="517" x2="348" y2="356"/>
<line x1="326" y1="439" x2="371" y2="356"/>
<line x1="268" y1="491" x2="369" y2="377"/>
<line x1="312" y1="473" x2="232" y2="271"/>
<line x1="244" y1="480" x2="278" y2="225"/>
<line x1="104" y1="540" x2="192" y2="531"/>
<line x1="81" y1="539" x2="177" y2="475"/>
<line x1="104" y1="540" x2="312" y2="517"/>
<line x1="71" y1="594" x2="177" y2="570"/>
<line x1="312" y1="473" x2="928" y2="514"/>
<line x1="284" y1="529" x2="826" y2="564"/>
<line x1="284" y1="527" x2="826" y2="542"/>
<line x1="312" y1="517" x2="849" y2="567"/>
<line x1="153" y1="453" x2="826" y2="564"/>
<line x1="130" y1="475" x2="951" y2="523"/>
<line x1="312" y1="561" x2="826" y2="564"/>
<line x1="282" y1="514" x2="557" y2="438"/>
<line x1="283" y1="517" x2="667" y2="445"/>
<line x1="312" y1="473" x2="667" y2="467"/>
<line x1="125" y1="359" x2="602" y2="438"/>
<line x1="261" y1="372" x2="689" y2="466"/>
<line x1="312" y1="517" x2="718" y2="561"/>
<line x1="284" y1="531" x2="718" y2="583"/>
<line x1="295" y1="593" x2="551" y2="612"/>
<line x1="551" y1="612" x2="644" y2="634"/>
<line x1="523" y1="462" x2="574" y2="559"/>
<line x1="318" y1="593" x2="696" y2="581"/>
<line x1="177" y1="570" x2="574" y2="537"/>
<line x1="312" y1="561" x2="618" y2="516"/>
<line x1="312" y1="473" x2="523" y2="433"/>
<line x1="283" y1="516" x2="523" y2="462"/>
<line x1="312" y1="517" x2="674" y2="513"/>
<line x1="261" y1="372" x2="928" y2="514"/>
<line x1="312" y1="473" x2="949" y2="491"/>
<line x1="416" y1="333" x2="523" y2="433"/>
<line x1="437" y1="356" x2="667" y2="422"/>
<line x1="130" y1="408" x2="557" y2="415"/>
<line x1="97" y1="399" x2="523" y2="462"/>
<line x1="312" y1="561" x2="602" y2="460"/>
<line x1="284" y1="527" x2="945" y2="545"/>
<line x1="326" y1="439" x2="733" y2="422"/>
<line x1="312" y1="517" x2="826" y2="542"/>
<line class="m" x1="557" y1="438" x2="579" y2="436"/>
<line class="m" x1="579" y1="436" x2="602" y2="438"/>
<line class="m" x1="557" y1="460" x2="579" y2="459"/>
<line class="m" x1="667" y1="422" x2="667" y2="445"/>
<line class="m" x1="667" y1="445" x2="667" y2="467"/>
<line class="m" x1="689" y1="443" x2="712" y2="445"/>
<line class="m" x1="574" y1="537" x2="618" y2="516"/>
<line class="m" x1="597" y1="539" x2="618" y2="516"/>
<line class="m" x1="597" y1="561" x2="618" y2="516"/>
<line class="m" x1="574" y1="559" x2="597" y2="539"/>
<line class="m" x1="574" y1="537" x2="597" y2="539"/>
<line x1="597" y1="539" x2="696" y2="581"/>
<line class="m" x1="986" y1="323" x2="1010" y2="343"/>
<line class="m" x1="986" y1="323" x2="1010" y2="366"/>
<line class="m" x1="986" y1="323" x2="1033" y2="367"/>
<line class="m" x1="1053" y1="323" x2="1010" y2="343"/>
<line class="m" x1="1033" y1="367" x2="1010" y2="343"/>
<line class="m" x1="1033" y1="367" x2="1033" y2="345"/>
<line class="m" x1="1010" y1="343" x2="1010" y2="366"/>
<line class="m" x1="928" y1="514" x2="951" y2="523"/>
<line class="m" x1="951" y1="523" x2="976" y2="537"/>
<line class="m" x1="973" y1="515" x2="1000" y2="542"/>
<line class="m" x1="996" y1="514" x2="998" y2="565"/>
<line class="m" x1="1000" y1="491" x2="973" y2="515"/>
<line class="m" x1="972" y1="492" x2="951" y2="523"/>
<line class="m" x1="1019" y1="518" x2="1000" y2="542"/>
<line class="m" x1="976" y1="537" x2="998" y2="565"/>
<line class="m" x1="975" y1="560" x2="998" y2="565"/>
<line class="m" x1="1023" y1="541" x2="998" y2="565"/>
<line class="m" x1="1000" y1="491" x2="1021" y2="565"/>
<line class="m" x1="949" y1="491" x2="976" y2="537"/>
<line class="m" x1="996" y1="514" x2="975" y2="560"/>
<line class="m" x1="973" y1="515" x2="998" y2="565"/>
<line class="m" x1="976" y1="537" x2="1023" y2="541"/>
<line class="m" x1="1000" y1="491" x2="1000" y2="542"/>
<line class="m" x1="972" y1="492" x2="977" y2="469"/>
<line class="m" x1="951" y1="523" x2="1021" y2="565"/>
<line class="m" x1="945" y1="545" x2="975" y2="560"/>
<line class="m" x1="928" y1="514" x2="998" y2="565"/>
<line class="m" x1="826" y1="564" x2="849" y2="543"/>
<line class="m" x1="826" y1="542" x2="826" y2="564"/>
<line class="m" x1="849" y1="543" x2="849" y2="567"/>
<line class="m" x1="826" y1="564" x2="849" y2="567"/>
<line x1="849" y1="543" x2="928" y2="514"/>
</g>
</svg>
